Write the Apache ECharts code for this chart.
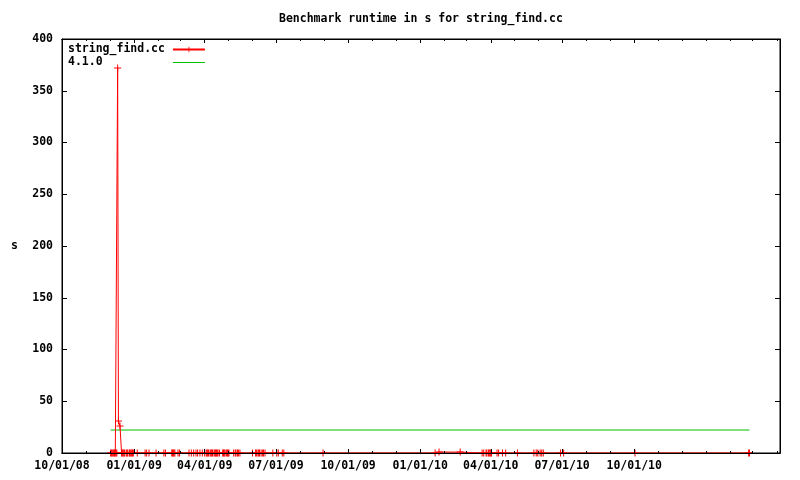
<!DOCTYPE html>
<html>
<head>
<meta charset="utf-8">
<title>Benchmark runtime in s for string_find.cc</title>
<script src="https://cdn.jsdelivr.net/npm/echarts@6/dist/echarts.min.js"></script>
<style>
  html, body { margin: 0; padding: 0; background: #fff; }
  #chart { width: 800px; height: 480px; }
</style>
</head>
<body>
<div id="chart"></div>
<script>
// run dates and runtimes (s) of string_find.cc
var runDates = [
  '2008-12-02', '2008-12-03', '2008-12-04', '2008-12-05', '2008-12-06', '2008-12-07', '2008-12-08',
  '2008-12-09', '2008-12-10', '2008-12-11', '2008-12-12', '2008-12-14',
  '2008-12-16', '2008-12-17', '2008-12-18', '2008-12-19', '2008-12-20', '2008-12-22', '2008-12-23',
  '2008-12-24', '2008-12-26', '2008-12-27', '2008-12-28', '2008-12-29', '2008-12-30', '2008-12-31',
  '2009-01-05', '2009-01-15', '2009-01-17', '2009-01-20', '2009-01-29', '2009-02-08', '2009-02-10',
  '2009-02-18', '2009-02-19', '2009-02-20', '2009-02-21', '2009-02-22', '2009-02-26', '2009-02-28',
  '2009-03-12', '2009-03-15', '2009-03-18', '2009-03-21', '2009-03-23', '2009-03-26', '2009-03-29',
  '2009-04-01', '2009-04-03', '2009-04-04', '2009-04-05', '2009-04-06', '2009-04-08', '2009-04-09',
  '2009-04-10', '2009-04-11', '2009-04-13', '2009-04-14', '2009-04-15', '2009-04-16', '2009-04-17',
  '2009-04-18', '2009-04-20', '2009-04-24', '2009-04-25', '2009-04-26', '2009-04-27', '2009-04-29',
  '2009-04-30', '2009-05-01', '2009-05-02', '2009-05-08', '2009-05-10', '2009-05-11', '2009-05-13',
  '2009-05-14', '2009-05-16', '2009-06-01', '2009-06-05', '2009-06-06', '2009-06-08', '2009-06-09',
  '2009-06-10', '2009-06-12', '2009-06-14', '2009-06-15', '2009-06-17', '2009-06-27', '2009-07-02',
  '2009-07-04', '2009-07-09', '2009-07-11', '2009-08-30',
  '2010-01-20', '2010-01-25', '2010-02-21', '2010-03-21', '2010-03-23', '2010-03-26', '2010-03-27',
  '2010-03-29', '2010-03-30', '2010-03-31', '2010-04-01', '2010-04-02', '2010-04-09', '2010-04-11',
  '2010-04-16', '2010-04-20', '2010-05-05', '2010-05-26', '2010-05-29', '2010-05-31', '2010-06-03',
  '2010-06-05', '2010-06-07', '2010-06-29', '2010-07-03', '2010-10-02',
  '2011-02-24', '2011-02-25'
];
var runTimes = [
  0, 0, 0, 0, 0, 0, 0,
  0, 0, 372, 31, 26,
  0, 0, 0, 0, 0, 0, 0,
  0, 0, 0, 0, 0, 0, 0,
  0, 0, 0, 0, 0, 0, 0,
  0, 0, 0, 0, 0, 0, 0,
  0, 0, 0, 0, 0, 0, 0,
  0, 0, 0, 0, 0, 0, 0,
  0, 0, 0, 0, 0, 0, 0,
  0, 0, 0, 0, 0, 0, 0,
  0, 0, 0, 0, 0, 0, 0,
  0, 0, 0, 0, 0, 0, 0,
  0, 0, 0, 0, 0, 0, 0,
  0, 0, 0, 0,
  0, 0.9, 0.9, 0, 0, 0, 0,
  0, 0, 0, 0, 0, 0, 0,
  0, 0, 0, 0, 0, 0, 0,
  0, 0, 0, 0, 0,
  0, 0
];

// 4.1.0 reference runtime
var refDates = ['2008-12-02', '2011-02-25'];
var refTimes = [22.2, 22.2];

var xMin = '2008-10-01';
var xMax = '2011-04-05';
var quarterTicks = [
  '2008-10-01', '2009-01-01', '2009-04-01', '2009-07-01', '2009-10-01',
  '2010-01-01', '2010-04-01', '2010-07-01', '2010-10-01'
];
var yTicks = [0, 50, 100, 150, 200, 250, 300, 350, 400];

var FONT = 'DejaVu Sans Mono';

function toTime(s) {
  var p = s.split('-');
  return new Date(+p[0], +p[1] - 1, +p[2]).getTime();
}
function pad(n) {
  return (n < 10 ? '0' : '') + n;
}
function fmtDate(v) {
  var d = new Date(v);
  return pad(d.getMonth() + 1) + '/' + pad(d.getDate()) + '/' + pad(d.getFullYear() % 100);
}

var quarterTimes = quarterTicks.map(toTime);
// monthly minor ticks
var monthTimes = [];
(function () {
  var d = new Date(2008, 10, 1);
  var end = toTime(xMax);
  while (d.getTime() <= end) {
    monthTimes.push(d.getTime());
    d = new Date(d.getFullYear(), d.getMonth() + 1, 1);
  }
})();

var runData = runDates.map(function (s, i) { return [toTime(s), runTimes[i]]; });
var refData = refDates.map(function (s, i) { return [toTime(s), refTimes[i]]; });

var labelFont = { fontFamily: FONT, fontWeight: 'bold', fontSize: 11.5, color: '#000' };
var blackLine = { color: '#000', width: 1 };

function xAxisOf(pos, ticks, len, withLabels) {
  return {
    type: 'value',
    position: pos,
    min: toTime(xMin),
    max: toTime(xMax),
    axisLine: { show: true, lineStyle: blackLine },
    axisTick: { show: true, inside: true, length: len, customValues: ticks, lineStyle: blackLine },
    axisLabel: withLabels ? Object.assign({
      customValues: quarterTimes,
      margin: 7,
      formatter: function (v) { return fmtDate(v); }
    }, labelFont) : { show: false },
    splitLine: { show: false },
    z: 5
  };
}

var chart = echarts.init(document.getElementById('chart'));
chart.setOption({
  animation: false,
  backgroundColor: '#fff',
  title: {
    text: 'Benchmark runtime in s for string_find.cc',
    left: 274,
    top: 8,
    textStyle: labelFont
  },
  legend: {
    data: [
      'string_find.cc',
      {
        name: '4.1.0',
        icon: 'path://M0,3 H32 V4 H0 Z',
        itemStyle: { color: '#00c000', borderWidth: 0 }
      }
    ],
    orient: 'vertical',
    left: 68,
    top: 43,
    align: 'right',
    itemWidth: 32,
    itemHeight: 7,
    itemGap: 0,
    padding: 0,
    formatter: function (name) { return name.padEnd(14, ' '); },
    textStyle: Object.assign({ lineHeight: 13, padding: [0, 3, 0, 0] }, labelFont)
  },
  grid: {
    left: 62, right: 20, top: 39, bottom: 27,
    show: true, borderColor: '#000', borderWidth: 1
  },
  xAxis: [
    xAxisOf('bottom', quarterTimes, 4, true),
    xAxisOf('bottom', monthTimes, 2, false),
    xAxisOf('top', quarterTimes, 4, false),
    xAxisOf('top', monthTimes, 2, false)
  ],
  yAxis: [
    {
      type: 'value',
      position: 'left',
      min: 0, max: 400, interval: 50,
      name: 's',
      nameLocation: 'middle',
      nameGap: 44,
      nameRotate: 0,
      nameTextStyle: labelFont,
      axisLine: { show: true, lineStyle: blackLine },
      axisTick: { show: true, inside: true, length: 5, lineStyle: blackLine },
      axisLabel: Object.assign({ margin: 9, customValues: yTicks }, labelFont),
      splitLine: { show: false },
      z: 5
    },
    {
      type: 'value',
      position: 'right',
      min: 0, max: 400, interval: 50,
      axisLine: { show: true, lineStyle: blackLine },
      axisTick: { show: true, inside: true, length: 5, lineStyle: blackLine },
      axisLabel: { show: false },
      splitLine: { show: false },
      z: 5
    }
  ],
  series: [
    {
      name: 'string_find.cc',
      type: 'line',
      xAxisIndex: 0,
      yAxisIndex: 0,
      data: runData,
      symbol: 'path://M3,0 H4 V3 H7 V4 H4 V7 H3 V4 H0 V3 H3 Z',
      symbolSize: 7,
      showAllSymbol: true,
      color: '#ff0000',
      lineStyle: { color: '#ff0000', width: 1 },
      itemStyle: { color: '#ff0000' },
      z: 3
    },
    {
      name: '4.1.0',
      type: 'line',
      xAxisIndex: 0,
      yAxisIndex: 0,
      data: refData,
      symbol: 'none',
      color: '#00c000',
      lineStyle: { color: '#00c000', width: 1 },
      z: 2
    }
  ]
});
</script>
</body>
</html>
